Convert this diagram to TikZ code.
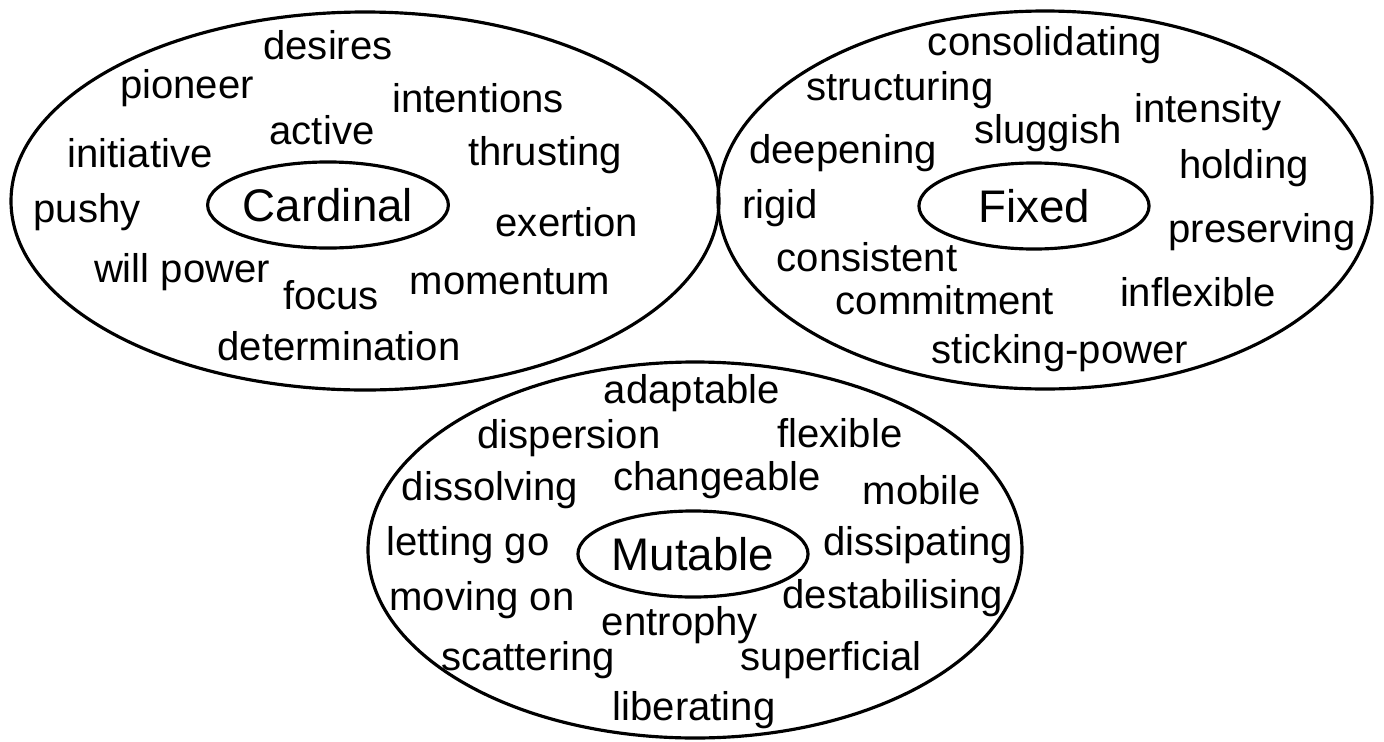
\documentclass[tikz,border=0pt]{standalone}
\usepackage{fontspec}
\setmainfont{Liberation Sans}
\usetikzlibrary{shapes.geometric}

\begin{document}
\begin{tikzpicture}[x=0.01cm,y=-0.01cm,line width=0.9pt,
  word/.style={font=\fontsize{11.4}{13}\selectfont,inner sep=0pt},
  quality/.style={ellipse,draw,font=\fontsize{13}{15}\selectfont,minimum width=2.3cm,minimum height=0.86cm,inner sep=0pt}]
\useasboundingbox (0,0) rectangle (1384,742);
% outer rings
\draw (365,201) ellipse [x radius=354,y radius=189];
\draw (1045,200) ellipse [x radius=327,y radius=189];
\draw (695,550) ellipse [x radius=327,y radius=188];

% cardinal
\node (cardinal) [quality] at (328,205) {Cardinal};
\node (desires) [word] at (328,45) {desires};
\node (pioneer) [word] at (187,88) {pioneer};
\node (intentions) [word] at (478,98) {intentions};
\node (active) [word] at (322,130) {active};
\node (initiative) [word] at (140,153) {initiative};
\node (thrusting) [word] at (545,155) {thrusting};
\node (pushy) [word] at (87,212) {pushy};
\node (exertion) [word] at (567,222) {exertion};
\node (willpower) [word] at (182,272) {will power};
\node (focus) [word] at (331,295) {focus};
\node (momentum) [word] at (510,282) {momentum};
\node (determination) [word] at (339,346) {determination};

% fixed
\node (fixed) [quality] at (1034,206) {Fixed};
\node (consolidating) [word] at (1045,45) {consolidating};
\node (structuring) [word] at (900,90) {structuring};
\node (intensity) [word] at (1208,112) {intensity};
\node (sluggish) [word] at (1048,133) {sluggish};
\node (deepening) [word] at (843,153) {deepening};
\node (holding) [word] at (1244,168) {holding};
\node (rigid) [word] at (780,208) {rigid};
\node (preserving) [word] at (1262,232) {preserving};
\node (consistent) [word] at (867,257) {consistent};
\node (commitment) [word] at (945,300) {commitment};
\node (inflexible) [word] at (1198,292) {inflexible};
\node (stickingpower) [word] at (1060,353) {sticking-power};

% mutable
\node (mutable) [quality] at (693,554) {Mutable};
\node (adaptable) [word] at (692,393) {adaptable};
\node (dispersion) [word] at (569,438) {dispersion};
\node (flexible) [word] at (840,433) {flexible};
\node (dissolving) [word] at (490,490) {dissolving};
\node (changeable) [word] at (717,480) {changeable};
\node (mobile) [word] at (922,490) {mobile};
\node (lettinggo) [word] at (468,545) {letting go};
\node (dissipating) [word] at (918,545) {dissipating};
\node (movingon) [word] at (482,600) {moving on};
\node (destabilising) [word] at (893,598) {destabilising};
\node (entrophy) [word] at (680,625) {entrophy};
\node (scattering) [word] at (528,660) {scattering};
\node (superficial) [word] at (831,660) {superficial};
\node (liberating) [word] at (694,710) {liberating};
\end{tikzpicture}
\end{document}
